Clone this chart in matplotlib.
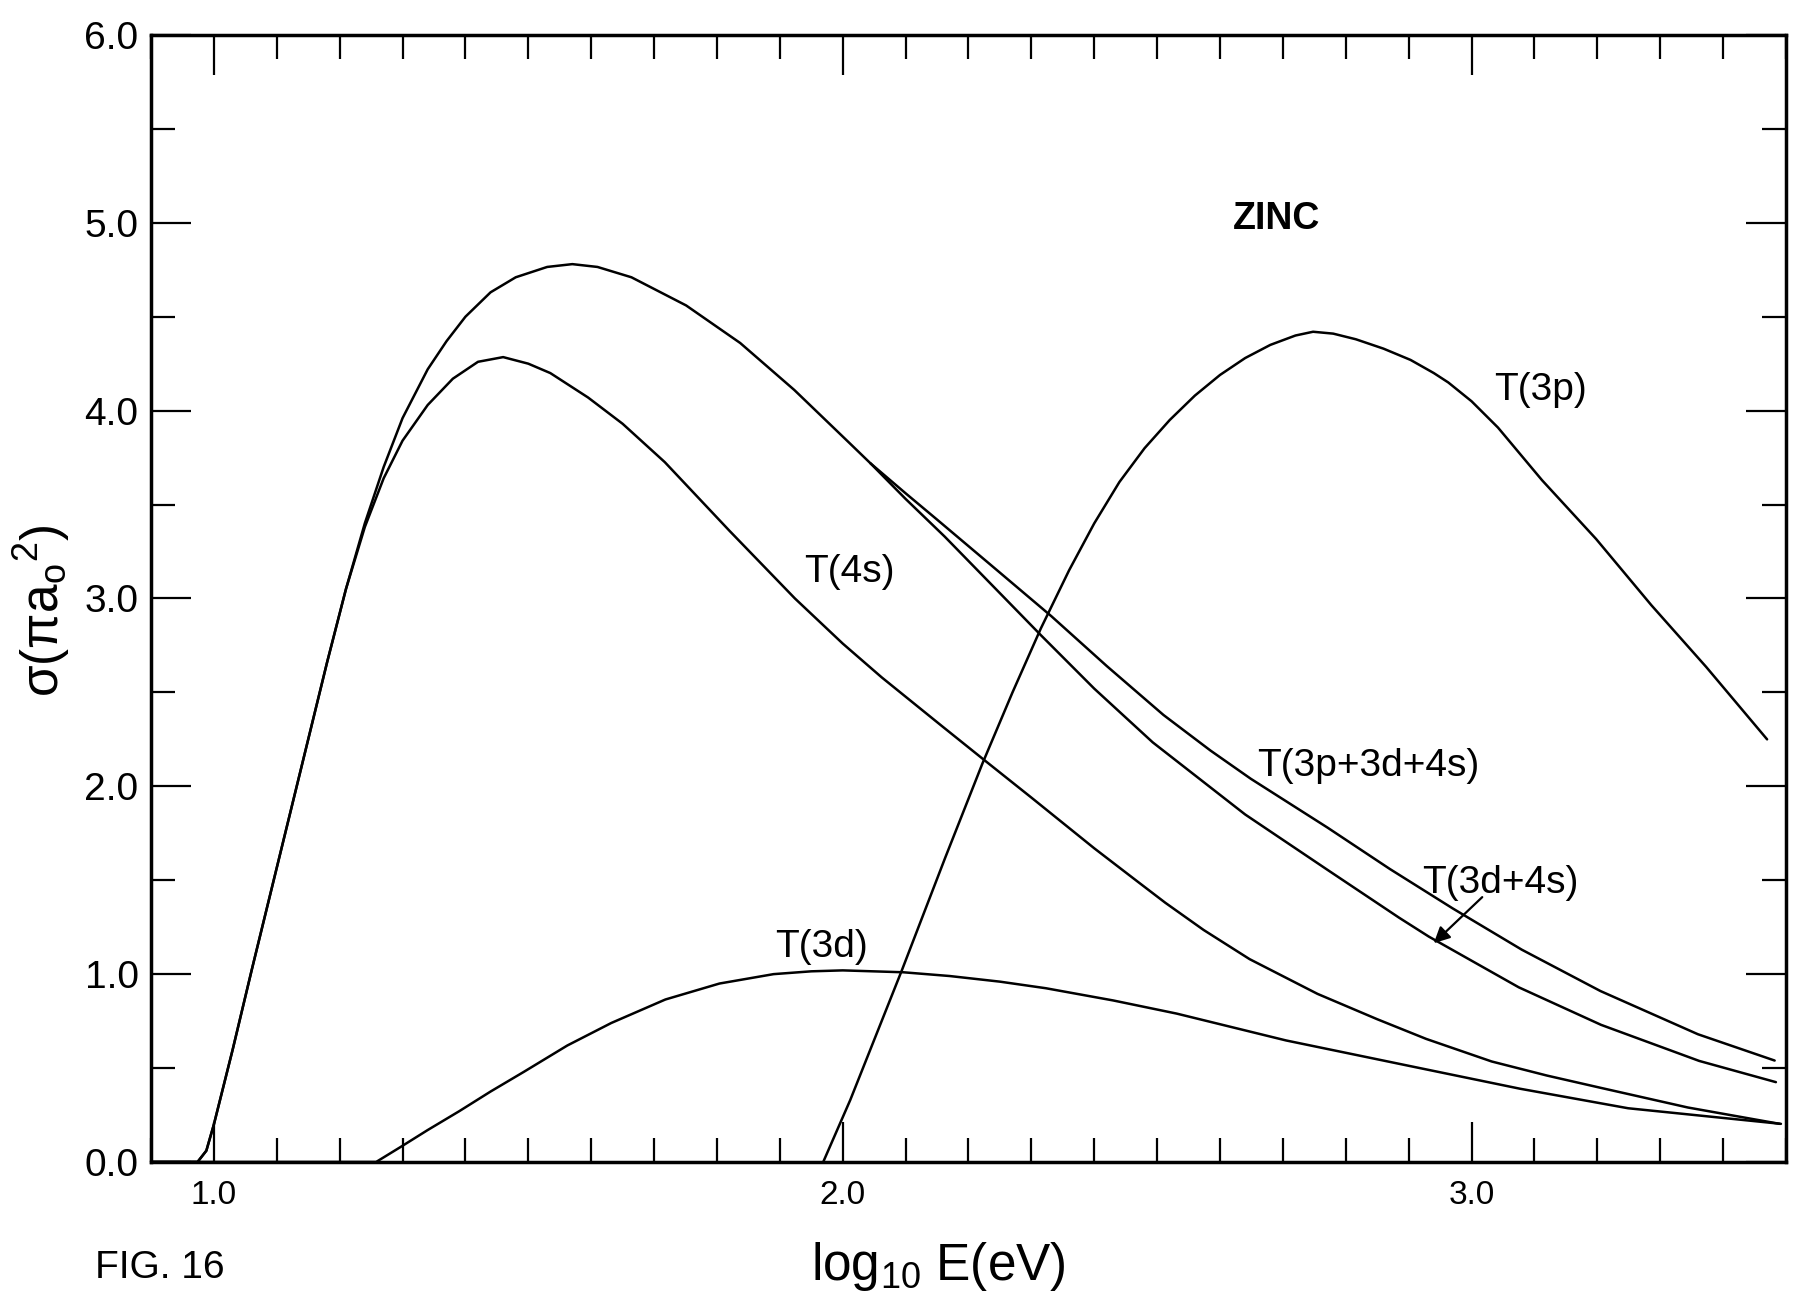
import matplotlib
matplotlib.use("Agg")
import matplotlib.pyplot as plt
from matplotlib.ticker import FixedLocator, MultipleLocator, FixedFormatter
from matplotlib import font_manager


def pick_family(*names):
    available = {f.name for f in font_manager.fontManager.ttflist}
    for name in names:
        if name in available:
            return name
    return "DejaVu Sans"


NARROW = pick_family("Liberation Sans Narrow", "DejaVu Sans Condensed", "Liberation Sans")
WIDE = pick_family("Liberation Sans", "DejaVu Sans")

plt.rcParams["mathtext.fontset"] = "custom"
plt.rcParams["mathtext.rm"] = WIDE
plt.rcParams["mathtext.it"] = WIDE + ":italic"
plt.rcParams["mathtext.bf"] = WIDE + ":bold"

# ---- cross sections, sigma in units of pi*a0^2, against log10 E(eV) ----
t4s_x = [0.90, 0.974, 0.988, 1.00, 1.03, 1.06, 1.09, 1.12, 1.15, 1.18, 1.21, 1.24,
         1.27, 1.30, 1.34, 1.38, 1.42, 1.46, 1.50, 1.535, 1.595, 1.65, 1.717, 1.82,
         1.924, 2.00, 2.062, 2.158, 2.225, 2.30, 2.40, 2.47, 2.513, 2.574, 2.647,
         2.755, 2.85, 2.928, 3.032, 3.12, 3.205, 3.344, 3.49]
t4s_y = [0.0, 0.0, 0.06, 0.20, 0.60, 1.02, 1.43, 1.84, 2.25, 2.66, 3.05, 3.38,
         3.64, 3.84, 4.03, 4.17, 4.26, 4.285, 4.25, 4.20, 4.07, 3.93, 3.726, 3.36,
         3.00, 2.76, 2.58, 2.32, 2.14, 1.94, 1.67, 1.49, 1.38, 1.235, 1.08,
         0.895, 0.76, 0.655, 0.535, 0.46, 0.395, 0.29, 0.203]

t3d_x = [0.90, 1.258, 1.297, 1.34, 1.39, 1.44, 1.493, 1.562, 1.632, 1.718, 1.804,
         1.89, 1.95, 2.00, 2.096, 2.17, 2.25, 2.323, 2.43, 2.531, 2.705, 2.903,
         3.077, 3.249, 3.492]
t3d_y = [0.0, 0.0, 0.08, 0.17, 0.27, 0.375, 0.48, 0.62, 0.74, 0.865, 0.95,
         1.00, 1.015, 1.02, 1.01, 0.99, 0.96, 0.925, 0.86, 0.79, 0.647, 0.51,
         0.39, 0.286, 0.203]

t3d4s_x = [0.90, 0.974, 0.988, 1.00, 1.03, 1.06, 1.09, 1.12, 1.15, 1.18, 1.21, 1.24,
           1.27, 1.30, 1.34, 1.37, 1.40, 1.44, 1.48, 1.53, 1.57, 1.61, 1.664, 1.751,
           1.837, 1.923, 2.01, 2.044, 2.10, 2.162, 2.315, 2.40, 2.493, 2.64, 2.771,
           2.885, 2.932, 3.075, 3.206, 3.362, 3.484]
t3d4s_y = [0.0, 0.0, 0.06, 0.20, 0.60, 1.02, 1.43, 1.84, 2.25, 2.66, 3.05, 3.40,
           3.70, 3.96, 4.22, 4.37, 4.50, 4.63, 4.71, 4.765, 4.78, 4.765, 4.71, 4.56,
           4.36, 4.11, 3.83, 3.72, 3.53, 3.33, 2.805, 2.52, 2.234, 1.85, 1.555,
           1.30, 1.20, 0.93, 0.73, 0.538, 0.425]

ttot_x = [2.044, 2.10, 2.15, 2.242, 2.332, 2.42, 2.51, 2.585, 2.649, 2.771, 2.87,
          2.97, 3.08, 3.205, 3.36, 3.482]
ttot_y = [3.72, 3.56, 3.42, 3.16, 2.905, 2.64, 2.38, 2.19, 2.04, 1.78, 1.56,
          1.35, 1.13, 0.91, 0.68, 0.54]

t3p_x = [1.969, 2.012, 2.094, 2.163, 2.222, 2.27, 2.315, 2.36, 2.40, 2.44, 2.48,
         2.52, 2.56, 2.60, 2.64, 2.68, 2.72, 2.748, 2.78, 2.816, 2.86, 2.903, 2.94,
         2.963, 3.00, 3.042, 3.112, 3.198, 3.286, 3.373, 3.47]
t3p_y = [0.0, 0.33, 1.02, 1.62, 2.12, 2.50, 2.84, 3.15, 3.40, 3.62, 3.80,
         3.95, 4.08, 4.19, 4.28, 4.35, 4.40, 4.42, 4.41, 4.38, 4.33, 4.27, 4.20,
         4.15, 4.05, 3.91, 3.63, 3.317, 2.964, 2.636, 2.25]

x_major = [1.0, 2.0, 3.0]
x_major_labels = ["1.0", "2.0", "3.0"]
y_major = [0, 1, 2, 3, 4, 5, 6]
y_major_labels = ["0.0", "1.0", "2.0", "3.0", "4.0", "5.0", "6.0"]

fig = plt.figure(figsize=(18.02, 13.05), dpi=100)
ax = fig.add_axes([0.0838, 0.1096, 0.9073, 0.8636])

line_kw = dict(color="black", lw=1.8, solid_capstyle="round", solid_joinstyle="round")
ax.plot(t4s_x, t4s_y, **line_kw)
ax.plot(t3d_x, t3d_y, **line_kw)
ax.plot(t3d4s_x, t3d4s_y, **line_kw)
ax.plot(ttot_x, ttot_y, **line_kw)
ax.plot(t3p_x, t3p_y, **line_kw)

ax.set_xlim(0.9, 3.5)
ax.set_ylim(0.0, 6.0)

ax.xaxis.set_major_locator(FixedLocator(x_major))
ax.xaxis.set_major_formatter(FixedFormatter(x_major_labels))
ax.xaxis.set_minor_locator(MultipleLocator(0.1))
ax.yaxis.set_major_locator(FixedLocator(y_major))
ax.yaxis.set_major_formatter(FixedFormatter(y_major_labels))
ax.yaxis.set_minor_locator(MultipleLocator(0.5))

ax.tick_params(which="both", direction="in", top=True, right=True,
               width=1.6, color="black")
ax.tick_params(which="major", length=29)
ax.tick_params(which="minor", length=17)
ax.tick_params(axis="x", which="major", labelsize=24, pad=13)
ax.tick_params(axis="y", which="major", labelsize=28, pad=9)
for lab in ax.get_xticklabels() + ax.get_yticklabels():
    lab.set_family(NARROW)

for sp in ax.spines.values():
    sp.set_linewidth(2.5)

# curve labels
label_kw = dict(family=WIDE, fontsize=28, ha="center", va="center")
ax.text(3.11, 4.11, "T(3p)", **label_kw)
ax.text(2.01, 3.14, "T(4s)", **label_kw)
ax.text(2.835, 2.11, "T(3p+3d+4s)", **label_kw)
ax.text(3.045, 1.485, "T(3d+4s)", **label_kw)
ax.text(1.966, 1.145, "T(3d)", **label_kw)
ax.text(2.69, 5.02, "ZINC", family=WIDE, fontsize=27, fontweight="bold",
        ha="center", va="center")

ax.annotate("", xy=(2.94, 1.165), xytext=(3.017, 1.41),
            arrowprops=dict(arrowstyle="-|>", lw=1.6, color="black",
                            mutation_scale=24, shrinkA=0, shrinkB=0))

fig.text(0.0233, 0.532, r"σ(πa$_{\mathrm{o}}{}^{2}$)", rotation=90,
         family=WIDE, fontsize=37, ha="center", va="center")
fig.text(0.521, 0.0192, r"log$_{10}$ E(eV)", family=WIDE, fontsize=37,
         ha="center", va="baseline")
fig.text(0.0527, 0.0207, "FIG. 16", family=NARROW, fontsize=28,
         ha="left", va="baseline")

fig.savefig("out.png", dpi=100, facecolor="white")
